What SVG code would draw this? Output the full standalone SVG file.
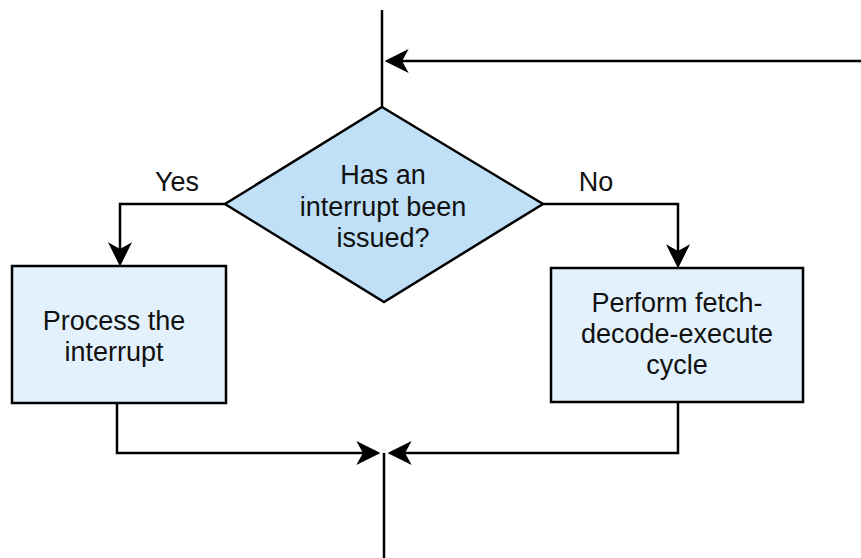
<svg xmlns="http://www.w3.org/2000/svg" width="861" height="558" viewBox="0 0 861 558">
  <style>
    .line { fill: none; stroke: #000; stroke-width: 2.5; }
    .arrow { marker-end: url(#head); }
    .box { fill: #e2f1fc; stroke: #000; stroke-width: 2.5; }
    .decision { fill: #bfe0f7; stroke: #000; stroke-width: 2.5; stroke-linejoin: miter; }
    text { font-family: "Liberation Sans", Arial, Helvetica, sans-serif; font-size: 27px; fill: #111; text-anchor: middle; }
  </style>
  <defs>
    <marker id="head" markerUnits="userSpaceOnUse" markerWidth="24" markerHeight="24" viewBox="0 0 22 22" refX="18" refY="11" orient="auto">
      <path d="M22,11 L0,0 L6,11 L0,22 Z" fill="#000"/>
    </marker>
  </defs>

  <rect width="861" height="558" fill="#fff"/>

  <g id="connectors">
    <path class="line" d="M382,10 V107"/>
    <path class="line arrow" d="M861,61 H389"/>
    <path class="line arrow" d="M225,204 H120 V262"/>
    <path class="line arrow" d="M543,204 H678 V264"/>
    <path class="line arrow" d="M117,403 V453 H376"/>
    <path class="line arrow" d="M678,402 V453 H392"/>
    <path class="line" d="M384,453 V558"/>
    <text x="177" y="191">Yes</text>
    <text x="596" y="191">No</text>
  </g>

  <g id="decision">
    <polygon class="decision" points="382,107 543,204 384,302 225,204"/>
    <text x="383" y="184">Has an</text>
    <text x="383" y="216">interrupt been</text>
    <text x="383" y="247">issued?</text>
  </g>

  <g id="process-interrupt">
    <rect class="box" x="12" y="266" width="214" height="137"/>
    <text x="114" y="330">Process the</text>
    <text x="114" y="361">interrupt</text>
  </g>

  <g id="fetch-decode-execute">
    <rect class="box" x="551" y="268" width="252" height="134"/>
    <text x="677" y="312">Perform fetch-</text>
    <text x="677" y="343">decode-execute</text>
    <text x="677" y="374">cycle</text>
  </g>
</svg>
